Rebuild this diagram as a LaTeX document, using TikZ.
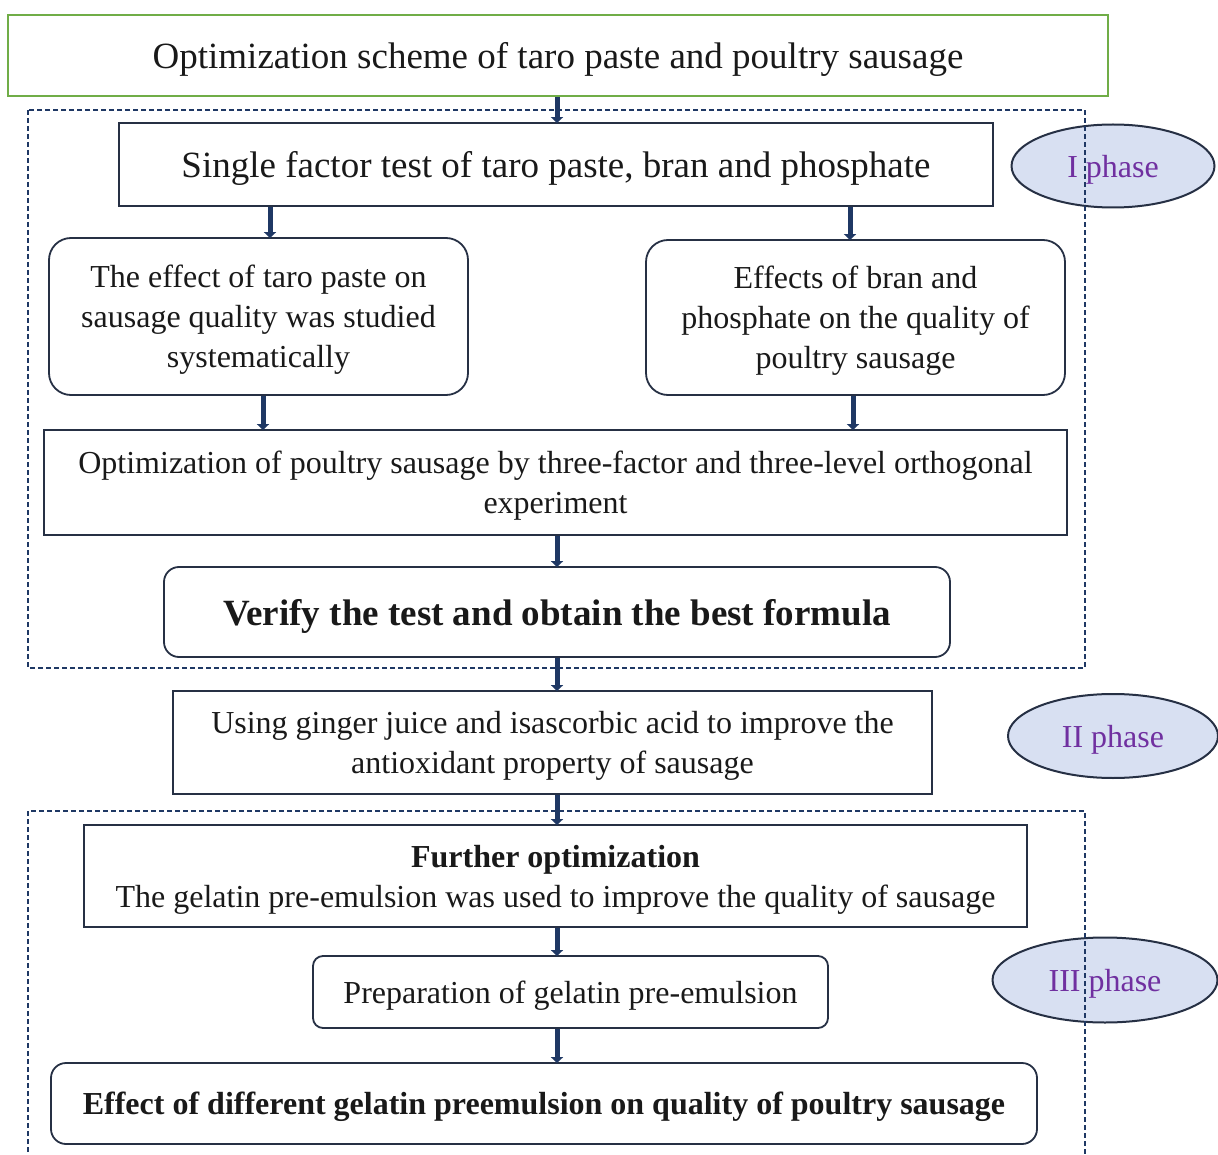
\documentclass[tikz,border=0pt]{standalone}
\usepackage{fontspec}
\setmainfont{Liberation Serif}
\usetikzlibrary{arrows.meta,shapes.geometric}
\definecolor{navy}{RGB}{31,56,100}
\definecolor{edge}{RGB}{38,48,68}
\definecolor{titlegreen}{RGB}{112,173,71}
\definecolor{phasefill}{RGB}{216,224,242}
\definecolor{phasetext}{RGB}{112,48,160}
\definecolor{txt}{RGB}{25,25,25}
\tikzset{
  box/.style={draw=edge, line width=1.8pt, inner sep=0pt, align=center, text=txt, text depth=0pt},
  rbox/.style={box, rounded corners=22pt},
  arr/.style={draw=navy, line width=5pt, -{Triangle[width=12pt,length=6pt]}},
  dbox/.style={draw=navy, line width=1.4pt, dash pattern=on 5pt off 3pt},
  phase/.style={ellipse, draw=edge, line width=2pt, fill=phasefill, inner sep=0pt,
    text=phasetext, text depth=0pt, font=\fontsize{32}{36}\selectfont},
  f37/.style={font=\fontsize{37}{42}\selectfont},
  f32/.style={font=\fontsize{32}{40}\selectfont},
}
\begin{document}
\begin{tikzpicture}[x=1pt,y=-1pt]
\useasboundingbox (0,0) rectangle (1218,1155);
% phase ellipses (under dashed boxes)
\node[phase, minimum width=203pt, minimum height=83pt] (p1) at (1113,166) {I phase};
\node[phase, minimum width=210pt, minimum height=84pt] (p2) at (1113,736) {II phase};
\node[phase, minimum width=225pt, minimum height=85pt] (p3) at (1105,980) {III phase};
% dashed phase frames
\draw[dbox] (28,110) rectangle (1085,668);
\draw[dbox] (28,1160) -- (28,811) -- (1085,811) -- (1085,1160);
% title
\node[box, draw=titlegreen, line width=2pt, minimum width=1100pt, minimum height=81pt,
  f37] (title) at (558,55.5)
  {Optimization scheme of taro paste and poultry sausage};
% phase I
\node[box, f37, minimum width=874pt, minimum height=83pt] (single) at (556,164.5)
  {Single factor test of taro paste, bran and phosphate};
\node[rbox, f32, minimum width=419pt, minimum height=157pt] (left) at (258.5,316.5)
  {The effect of taro paste on\\sausage quality was studied\\systematically};
\node[rbox, f32, minimum width=419pt, minimum height=155pt] (right) at (855.5,317.5)
  {Effects of bran and\\phosphate on the quality of\\poultry sausage};
\node[box, f32, minimum width=1023pt, minimum height=105pt] (ortho) at (555.5,482.5)
  {Optimization of poultry sausage by three-factor and three-level orthogonal\\experiment};
\node[rbox, rounded corners=15pt, minimum width=786pt, minimum height=90pt,
  font=\fontsize{37}{42}\selectfont\bfseries] (verify) at (557,612)
  {Verify the test and obtain the best formula};
% phase II
\node[box, f32, minimum width=759pt, minimum height=103pt] (ginger) at (552.5,742.5)
  {Using ginger juice and isascorbic acid to improve the\\antioxidant property of sausage};
% phase III
\node[box, f32, minimum width=943pt, minimum height=102pt] (further) at (555.5,876)
  {\textbf{Further optimization}\\The gelatin pre-emulsion was used to improve the quality of sausage};
\node[rbox, rounded corners=10pt, f32, minimum width=515pt, minimum height=72pt] (prep) at (570.5,992)
  {Preparation of gelatin pre-emulsion};
\node[rbox, rounded corners=15pt, minimum width=986pt, minimum height=81pt,
  font=\fontsize{32}{36}\selectfont\bfseries] (effect) at (544,1103.5)
  {Effect of different gelatin preemulsion on quality of poultry sausage};
% arrows
\coordinate (xa) at (557,0);
\coordinate (xl1) at (270,0);
\coordinate (xr1) at (850,0);
\coordinate (xl2) at (263,0);
\coordinate (xr2) at (853,0);
\draw[arr] (title.south -| xa) -- ([yshift=-1pt]single.north -| xa);
\draw[arr] (single.south -| xl1) -- ([yshift=-1pt]left.north -| xl1);
\draw[arr] (single.south -| xr1) -- ([yshift=-1pt]right.north -| xr1);
\draw[arr] (left.south -| xl2) -- ([yshift=-1pt]ortho.north -| xl2);
\draw[arr] (right.south -| xr2) -- ([yshift=-1pt]ortho.north -| xr2);
\draw[arr] (ortho.south -| xa) -- ([yshift=-1pt]verify.north -| xa);
\draw[arr] (verify.south -| xa) -- ([yshift=-1pt]ginger.north -| xa);
\draw[arr] (ginger.south -| xa) -- ([yshift=-1pt]further.north -| xa);
\draw[arr] (further.south -| xa) -- ([yshift=-1pt]prep.north -| xa);
\draw[arr] (prep.south -| xa) -- ([yshift=-1pt]effect.north -| xa);
\end{tikzpicture}
\end{document}
